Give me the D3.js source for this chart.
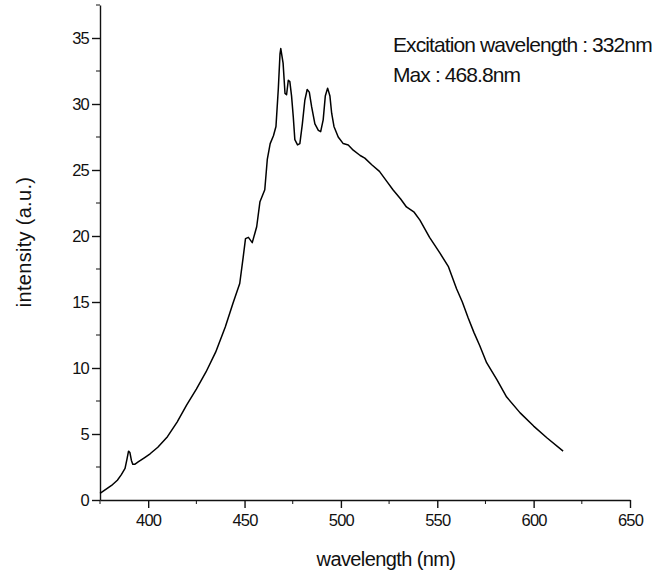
<!DOCTYPE html>
<html lang="en">
  <head>
    <meta charset="UTF-8" />
    <title>Emission spectrum</title>
    <script src="https://d3js.org/d3.v7.min.js"></script>
    <style>
      body {
        margin: 0;
        background: #fff;
      }
      svg text {
        font-family: "Liberation Sans", Arial, sans-serif;
        fill: #111;
      }
    </style>
  </head>
  <body>
    <svg id="chart" width="670" height="577"></svg>

    <script>
      // spectrum
      const wavelength = [
        375, 378, 381, 384, 386, 388, 389, 389.8, 390.5, 391.3,
        392, 393, 395, 398, 401, 405, 410, 415, 420, 425,
        430, 435, 440, 444, 447.5, 449.3, 450.5, 452, 454, 456.3,
        458, 460.5, 461.8, 463.3, 465, 466.3, 467.5, 468.4, 468.8, 470,
        471, 471.8, 472.7, 473.5, 474.4, 475.3, 476.1, 477.5, 478.7, 480,
        481.3, 482.5, 483.6, 484.8, 486.5, 488.3, 489.5, 490.8, 491.9, 493.1,
        494.3, 495.2, 496.4, 498.6, 501.2, 503.8, 506.4, 510, 512.4, 516,
        520, 524, 527, 531, 534, 538, 541, 546, 551.4, 555.7,
        560, 563, 566, 569, 572, 575.6, 581, 586, 593, 600,
        607, 615.3
      ];
      const intensity = [
        0.5, 0.8, 1.1, 1.5, 1.9, 2.4, 3.1, 3.7, 3.6, 3.0,
        2.7, 2.7, 2.9, 3.2, 3.5, 4.0, 4.8, 5.9, 7.2, 8.4,
        9.7, 11.2, 13.1, 14.9, 16.4, 18.4, 19.8, 19.9, 19.5, 20.7,
        22.6, 23.5, 25.8, 27.0, 27.6, 28.3, 31.1, 33.8, 34.2, 33.1,
        30.8, 30.7, 31.8, 31.7, 30.6, 29.0, 27.3, 26.9, 27.0, 28.5,
        30.3, 31.1, 30.9, 29.8, 28.5, 28.0, 27.9, 28.8, 30.6, 31.2,
        30.6, 29.3, 28.3, 27.5, 27.0, 26.9, 26.5, 26.1, 25.9, 25.4,
        24.9, 24.1, 23.5, 22.8, 22.2, 21.8, 21.2, 19.9, 18.7, 17.7,
        16.0, 15.0, 13.8, 12.7, 11.7, 10.4, 9.1, 7.8, 6.6, 5.6,
        4.7, 3.7
      ];
      const xTicks = [400, 450, 500, 550, 600, 650];
      const xMinor = [375, 425, 475, 525, 575, 625];
      const yTicks = [0, 5, 10, 15, 20, 25, 30, 35];
      const yMinor = [2.5, 7.5, 12.5, 17.5, 22.5, 27.5, 32.5, 37.5];
      const notes = ["Excitation wavelength : 332nm", "Max : 468.8nm"];

      const svg = d3.select("#chart");
      const x = d3.scaleLinear().domain([375, 650]).range([100, 630]);
      const y = d3.scaleLinear().domain([0, 37.5]).range([500, 5]);

      // x axis
      const gx = svg.append("g").attr("transform", "translate(0,500)");
      gx.call(
        d3.axisBottom(x).tickValues(xTicks).tickSize(8).tickSizeOuter(0)
      );
      gx.append("g")
        .selectAll("line")
        .data(xMinor)
        .join("line")
        .attr("x1", (d) => x(d))
        .attr("x2", (d) => x(d))
        .attr("y1", 0)
        .attr("y2", 4)
        .attr("stroke", "#111");

      // y axis
      const gy = svg.append("g").attr("transform", "translate(100,0)");
      gy.call(d3.axisLeft(y).tickValues(yTicks).tickSize(8).tickSizeOuter(0));
      gy.append("g")
        .selectAll("line")
        .data(yMinor)
        .join("line")
        .attr("y1", (d) => y(d))
        .attr("y2", (d) => y(d))
        .attr("x1", 0)
        .attr("x2", -4)
        .attr("stroke", "#111");

      svg.selectAll(".domain, .tick line")
        .attr("stroke", "#111")
        .attr("stroke-width", 1.4);
      svg.selectAll(".tick text")
        .style("font-size", "16.5px")
        .style("letter-spacing", "-0.8px");
      gx.selectAll(".tick text").attr("dy", "0.95em").attr("y", 10);
      gy.selectAll(".tick text").attr("x", -11);

      // spectrum
      const pts = wavelength.map((w, i) => [w, intensity[i]]);
      svg.append("path")
        .datum(pts)
        .attr("fill", "none")
        .attr("stroke", "#000")
        .attr("stroke-width", 1.5)
        .attr("stroke-linejoin", "round")
        .attr(
          "d",
          d3.line()
            .x((d) => x(d[0]))
            .y((d) => y(d[1]))
        );

      // axis titles
      svg.append("text")
        .attr("x", 386)
        .attr("y", 566)
        .attr("text-anchor", "middle")
        .style("font-size", "20px")
        .style("letter-spacing", "-0.6px")
        .text("wavelength (nm)");

      svg.append("text")
        .attr("transform", "translate(31,242) rotate(-90)")
        .attr("text-anchor", "middle")
        .style("font-size", "20px")
        .style("letter-spacing", "0.3px")
        .text("intensity (a.u.)");

      // notes
      svg.selectAll(".note")
        .data(notes)
        .join("text")
        .attr("class", "note")
        .attr("x", 393)
        .attr("y", (d, i) => 52 + i * 30)
        .style("font-size", "21px")
        .style("letter-spacing", "-0.9px")
        .text((d) => d);
    </script>
  </body>
</html>
